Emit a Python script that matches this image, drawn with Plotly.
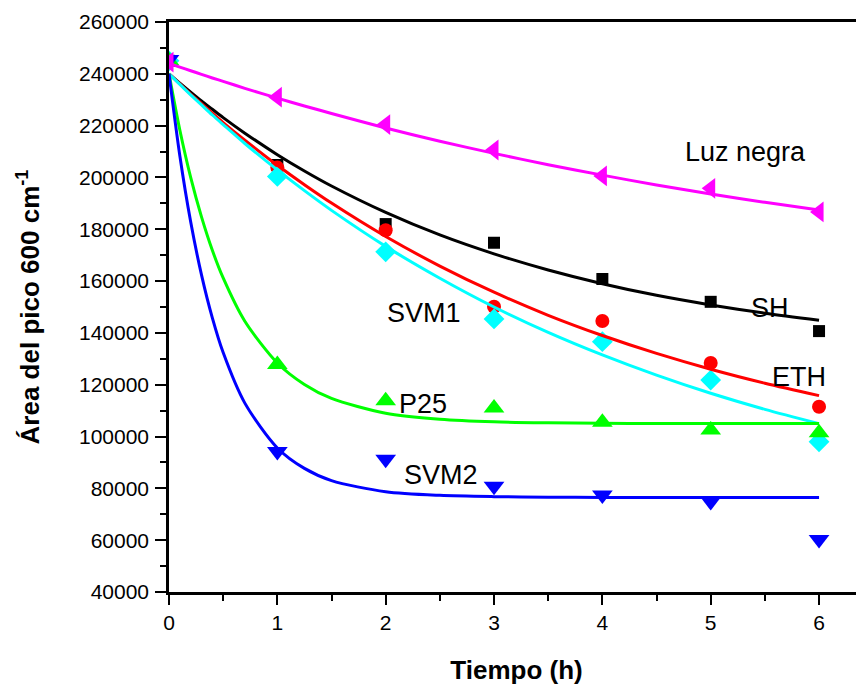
import plotly.graph_objects as go

# Measured data points
tiempo = [0, 1, 2, 3, 4, 5, 6]
sh = [245000, 204800, 182000, 174800, 160800, 152000, 140700]
eth = [245000, 203800, 179600, 150100, 144600, 128400, 111500]
svm1 = [245000, 200400, 171300, 145400, 136600, 121800, 98000]
p25 = [245000, 127800, 113800, 111000, 105500, 102500, 101500]
svm2 = [245500, 94200, 91200, 80800, 77400, 74900, 60300]
luz = [244500, 231000, 220400, 210600, 200600, 195800, 186700]

# Fitted curves
fit_t = [0, 0.1, 0.2, 0.3, 0.4, 0.5, 0.7, 1, 1.25, 1.5, 2, 2.5, 3, 3.5, 4, 4.5, 5, 5.5, 6]
fit_sh = [240000, 236400, 232900, 229500, 226300, 223100, 217100, 208800, 202500, 196700,
          186500, 177800, 170500, 164300, 159000, 154500, 150800, 147600, 144900]
fit_eth = [240000, 236100, 232200, 228500, 224800, 221200, 214400, 204700, 197200, 190100,
           177200, 165800, 155700, 146800, 139000, 132100, 126000, 120600, 115800]
fit_svm1 = [240000, 235900, 231900, 228000, 224100, 220400, 213100, 202900, 194900, 187300,
            173400, 161100, 150000, 140200, 131500, 123700, 116700, 110500, 105000]
fit_p25 = [240000, 218300, 200000, 184800, 171900, 161200, 144500, 128400, 120100, 114700,
           109000, 106700, 105700, 105300, 105100, 105000, 105000, 105000, 105000]
fit_svm2 = [240000, 208400, 182900, 162400, 145800, 132400, 112900, 95600, 87700, 83000,
            78700, 77300, 76800, 76600, 76500, 76500, 76500, 76500, 76500]
fit_luz = [244000, 242600, 241200, 239800, 238400, 237100, 234400, 230600, 227600, 224700,
           219100, 214000, 209300, 204900, 200900, 197100, 193600, 190400, 187400]

series = [
    ("SH", sh, fit_sh, "#000000", "square", 12),
    ("ETH", eth, fit_eth, "#FF0000", "circle", 14),
    ("SVM1", svm1, fit_svm1, "#00FFFF", "diamond", 16),
    ("P25", p25, fit_p25, "#00FF00", "triangle-up", 18),
    ("SVM2", svm2, fit_svm2, "#0000FF", "triangle-down", 18),
    ("Luz negra", luz, fit_luz, "#FF00FF", "triangle-left", 18),
]

fig = go.Figure()
for name, pts, fit, color, sym, sz in series:
    fig.add_trace(go.Scatter(x=tiempo, y=pts, mode="markers", name=name,
                             marker=dict(symbol=sym, size=sz, color=color, line=dict(width=0)),
                             showlegend=False))
for name, pts, fit, color, sym, sz in series:
    fig.add_trace(go.Scatter(x=fit_t, y=fit, mode="lines", name=name + " fit",
                             line=dict(color=color, width=3, shape="spline", smoothing=0.8),
                             showlegend=False))

labels = [
    ("Luz negra", 5.32, 209800),
    ("SH", 5.547, 149600),
    ("ETH", 5.813, 123100),
    ("SVM1", 2.352, 147800),
    ("P25", 2.346, 112600),
    ("SVM2", 2.509, 85200),
]
for txt, lx, ly in labels:
    fig.add_annotation(x=lx, y=ly, text=txt, showarrow=False, xanchor="center", yanchor="middle",
                       font=dict(family="Arial, Liberation Sans", size=27, color="black"))

fig.update_layout(
    width=856, height=678,
    margin=dict(l=161, r=0, t=14, b=94),
    paper_bgcolor="white", plot_bgcolor="white",
    font=dict(family="Arial, Liberation Sans", color="black"),
    xaxis=dict(
        range=[0, 6.415], tickmode="array", tickvals=[0, 1, 2, 3, 4, 5, 6],
        ticks="outside", ticklen=10, tickwidth=2, tickcolor="black",
        minor=dict(tickvals=[0.5, 1.5, 2.5, 3.5, 4.5, 5.5, 6.5], ticks="outside", ticklen=6,
                   tickwidth=2, tickcolor="black"),
        showline=True, linecolor="black", linewidth=2.5, mirror=True,
        showgrid=False, zeroline=False, automargin=False,
        tickfont=dict(size=21),
        title=dict(text="<b>Tiempo (h)</b>", font=dict(size=26), standoff=28),
    ),
    yaxis=dict(
        range=[40000, 260000], tickmode="array",
        tickvals=[40000, 60000, 80000, 100000, 120000, 140000, 160000, 180000, 200000,
                  220000, 240000, 260000],
        ticktext=["40000", "60000", "80000", "100000", "120000", "140000", "160000",
                  "180000", "200000", "220000", "240000", "260000"],
        ticks="outside", ticklen=11, tickwidth=2, tickcolor="black",
        minor=dict(tickvals=[50000, 70000, 90000, 110000, 130000, 150000, 170000, 190000,
                             210000, 230000, 250000], ticks="outside", ticklen=6,
                   tickwidth=2, tickcolor="black"),
        showline=True, linecolor="black", linewidth=2.5,
        showgrid=False, zeroline=False, automargin=False,
        ticklabelstandoff=2,
        tickfont=dict(size=21),
        title=dict(text="<b>Área del pico 600 cm<sup>-1</sup></b>", font=dict(size=26), standoff=32),
    ),
)

fig.write_html("out.html")
